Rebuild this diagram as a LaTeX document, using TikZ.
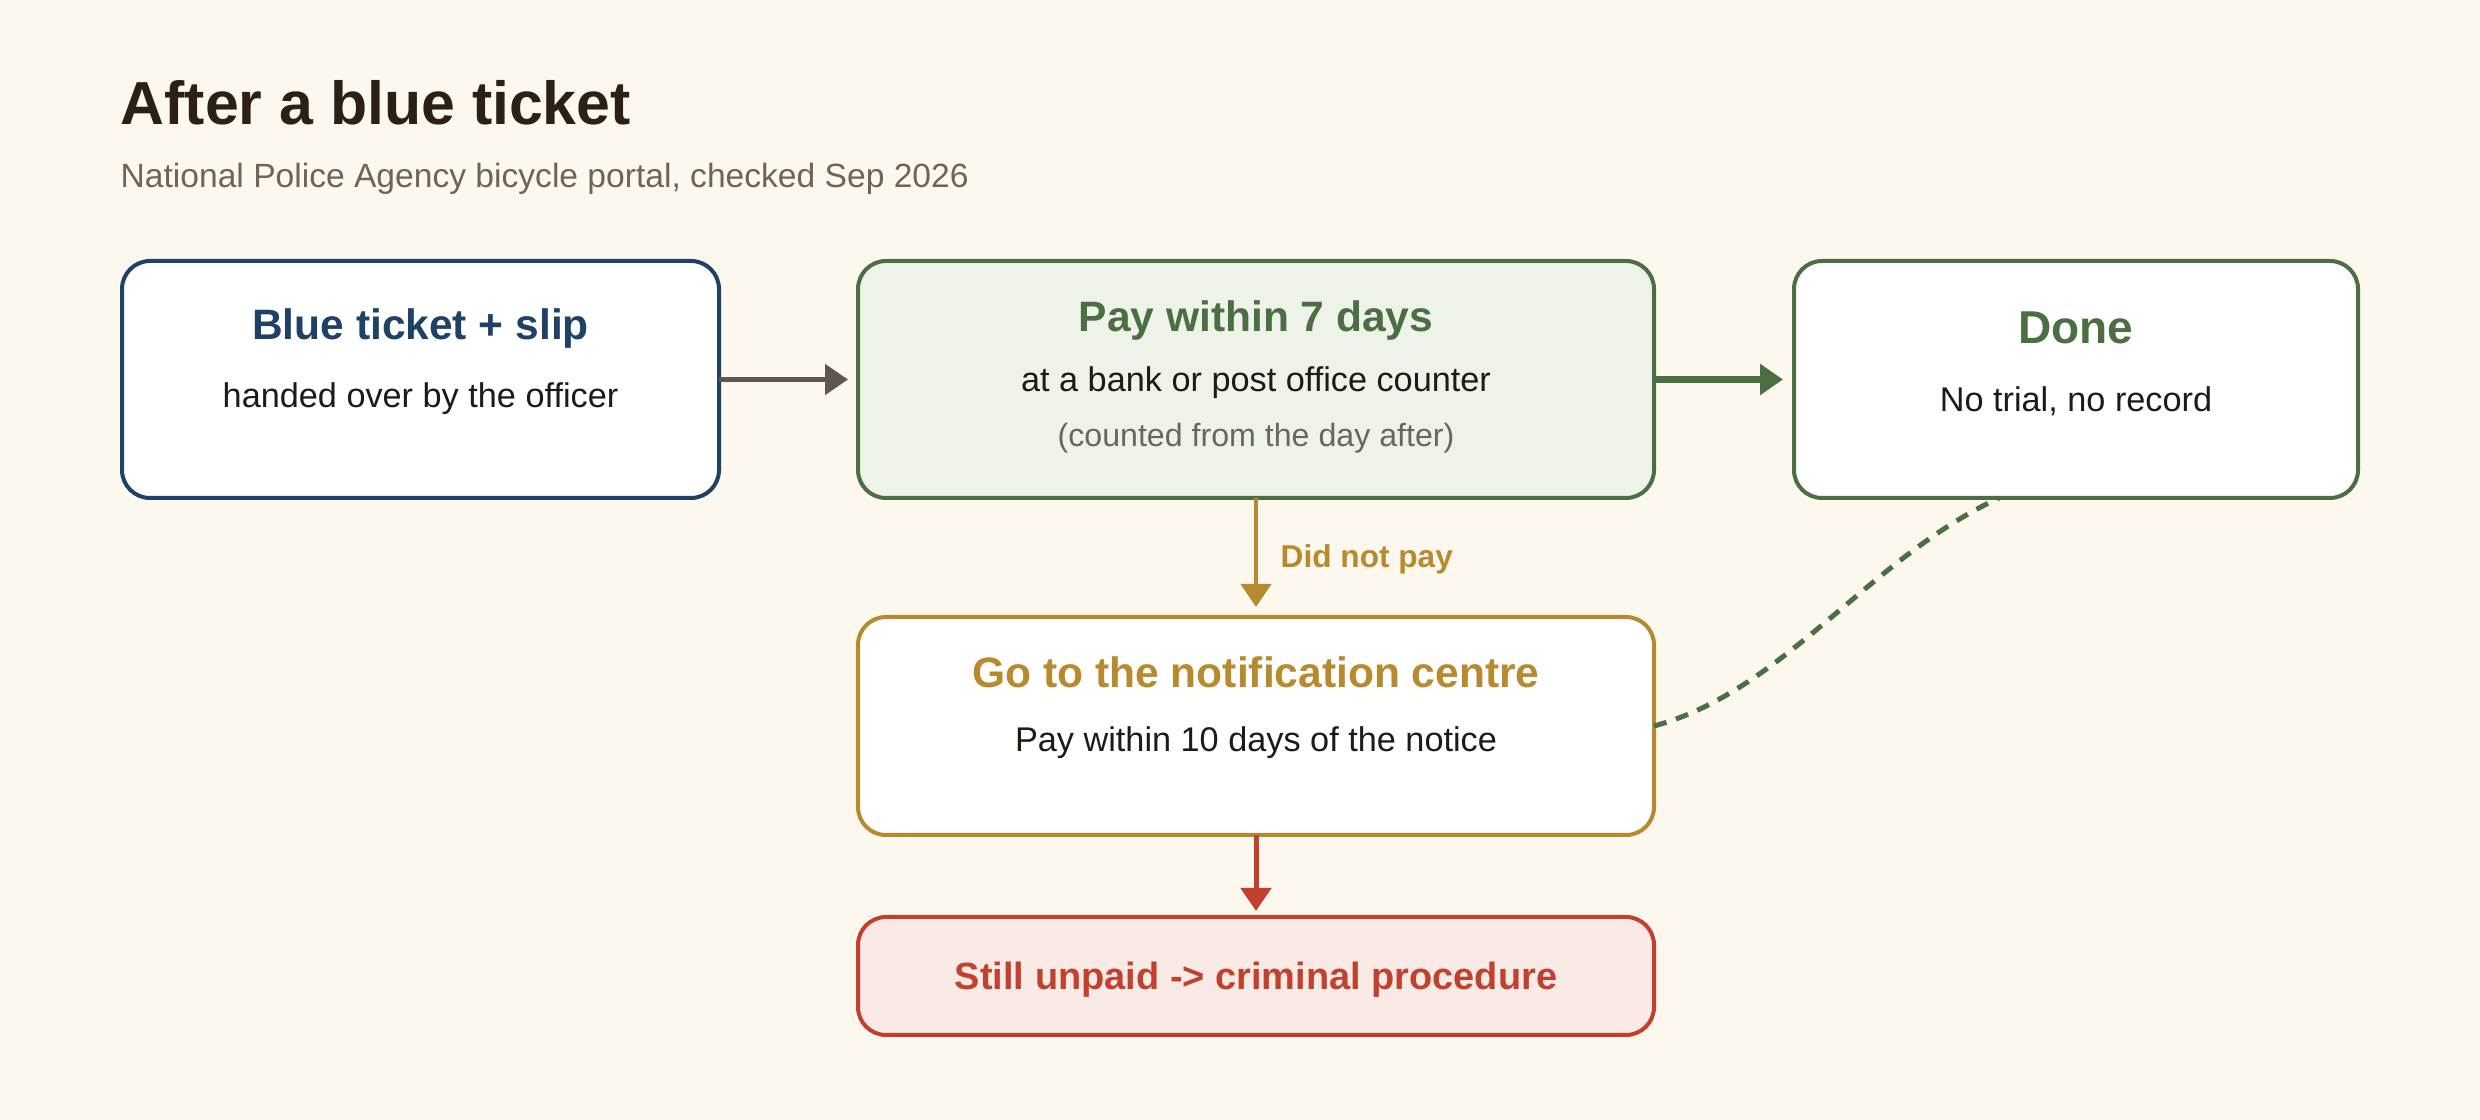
\documentclass[tikz,border=0pt]{standalone}
\usepackage{fontspec}
\setmainfont{Liberation Sans}
\usetikzlibrary{arrows.meta,calc}

\definecolor{bgcream}{HTML}{FCF8EE}
\definecolor{ink}{HTML}{1F1A15}
\definecolor{titleink}{HTML}{2B2015}
\definecolor{subgray}{HTML}{6E6558}
\definecolor{tblue}{HTML}{1F4166}
\definecolor{tgreen}{HTML}{4B6E42}
\definecolor{greenfill}{HTML}{EEF3EA}
\definecolor{tgold}{HTML}{B88A2E}
\definecolor{tred}{HTML}{C2412E}
\definecolor{redfill}{HTML}{FAEAE6}
\definecolor{arrowgray}{HTML}{5F574D}

\begin{document}
\begin{tikzpicture}[x=0.1mm,y=-0.1mm,
    box/.style={draw=#1,line width=0.4mm,rounded corners=2.8mm,inner sep=0pt,outer sep=0pt,fill=white},
    head/.style={anchor=base,inner sep=0pt,font=\fontsize{12.1pt}{14pt}\selectfont\bfseries},
    body/.style={anchor=base,inner sep=0pt,text=ink,font=\fontsize{9.75pt}{12pt}\selectfont},
    flow/.style={-{Triangle[length=2.3mm,width=3mm]}}]

    % Background
    \fill[bgcream] (0,0) rectangle (2480,1120);

    % Title
    \node[anchor=base west,inner sep=0pt,text=titleink,font=\fontsize{17.3pt}{20pt}\selectfont\bfseries] (title) at (120,125) {After a blue ticket};
    \node[anchor=base west,inner sep=0pt,text=subgray,font=\fontsize{9.56pt}{12pt}\selectfont] (source) at (120,188) {National Police Agency bicycle portal, checked Sep 2026};

    % Boxes
    \node[box=tblue,minimum width=59.7mm,minimum height=23.7mm] (ticket) at (420.5,379.5) {};
    \node[box=tgreen,fill=greenfill,minimum width=79.6mm,minimum height=23.7mm] (pay) at (1256,379.5) {};
    \node[box=tgreen,minimum width=56.4mm,minimum height=23.7mm] (done) at (2076,379.5) {};
    \node[box=tgold,minimum width=79.6mm,minimum height=21.8mm] (centre) at (1256,726) {};
    \node[box=tred,fill=redfill,minimum width=79.6mm,minimum height=11.8mm] (crim) at (1256,976) {};

    % Box texts
    \node[head,text=tblue] (ticket-h) at (420.5,340) {Blue ticket + slip};
    \node[body] (ticket-b) at (420.5,408) {handed over by the officer};

    \node[head,text=tgreen] (pay-h) at (1256,332) {Pay within 7 days};
    \node[body] (pay-b) at (1256,392) {at a bank or post office counter};
    \node[body,text=subgray,font=\fontsize{9.15pt}{11pt}\selectfont] (pay-n) at (1256,447) {(counted from the day after)};

    \node[head,text=tgreen,font=\fontsize{13.1pt}{15pt}\selectfont\bfseries] (done-h) at (2076,344) {Done};
    \node[body] (done-b) at (2076,412) {No trial, no record};

    \node[head,text=tgold] (centre-h) at (1256,688) {Go to the notification centre};
    \node[body] (centre-b) at (1256,752) {Pay within 10 days of the notice};

    \node[head,text=tred,font=\fontsize{10.8pt}{13pt}\selectfont\bfseries] (crim-h) at (1256,990) {Still unpaid -> criminal procedure};

    % Arrows
    \draw[flow,arrowgray,line width=0.5mm,shorten >=1mm] (ticket.east) -- (pay.west);
    \draw[flow,tgreen,line width=0.7mm,shorten >=1.1mm] (pay.east) -- (done.west);
    \draw[flow,tgold,line width=0.45mm,shorten >=1mm] (pay.south) -- (centre.north);
    \node[anchor=base west,inner sep=0pt,text=tgold,font=\fontsize{9pt}{11pt}\selectfont\bfseries] (nopay) at (1280,568) {Did not pay};
    \draw[flow,tred,line width=0.5mm,shorten >=0.6mm] (centre.south) -- (crim.north);

    % Paid at the centre
    \draw[tgreen,line width=0.5mm,dash pattern=on 1.3mm off 1mm] (centre.east) .. controls +(130,-35) and +(-130,60) .. ([xshift=-7.7mm]done.south);
\end{tikzpicture}
\end{document}
